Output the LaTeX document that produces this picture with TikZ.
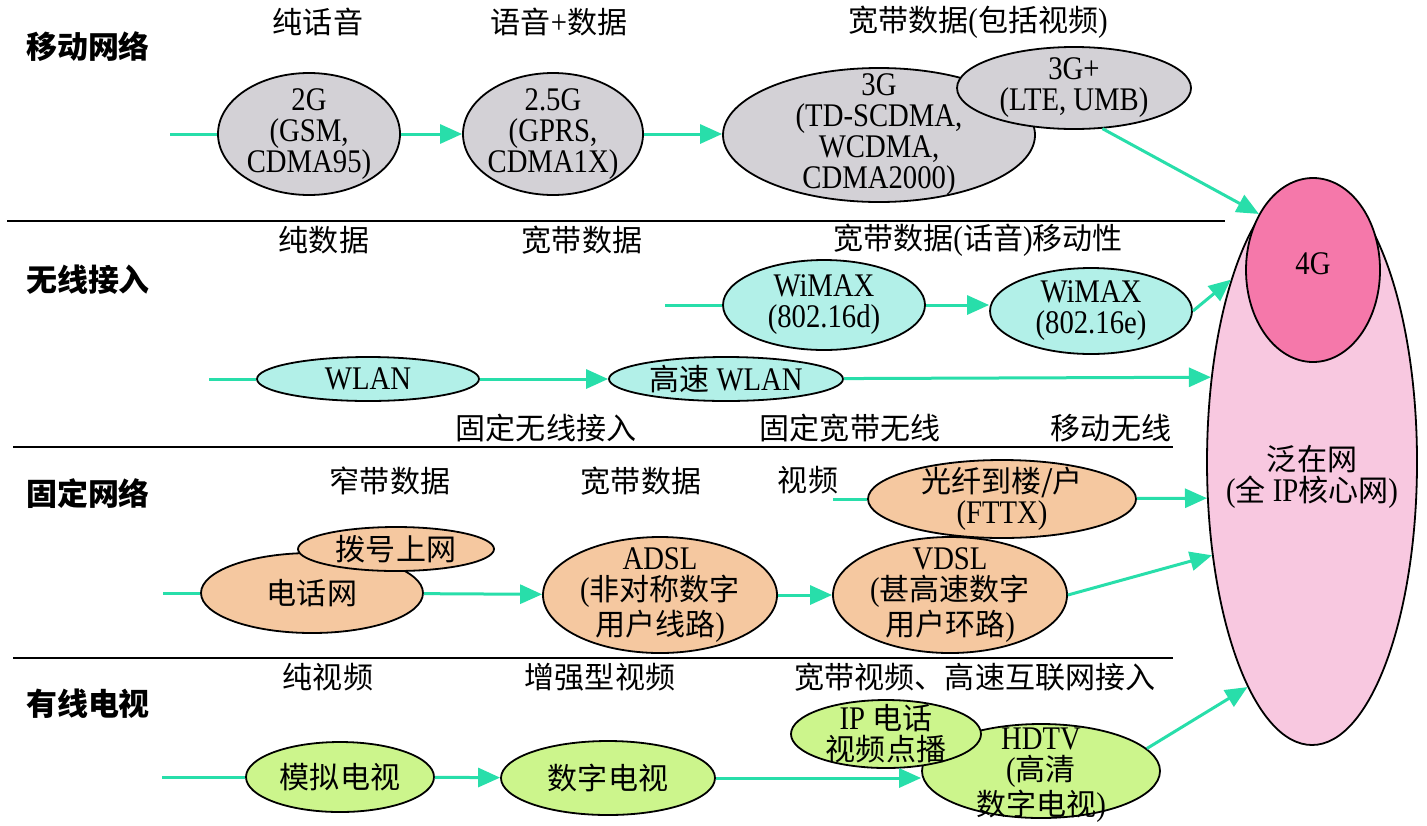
\documentclass[tikz,border=0pt]{standalone}
\usepackage{fontspec}
\setmainfont{Liberation Serif}[FakeStretch=0.87]
\newfontfamily\cjk{Noto Sans CJK SC}[Scale=0.91]
\newcommand\zh[1]{{\cjk #1}}
\usetikzlibrary{shapes.geometric,arrows.meta}
\definecolor{mobc}{RGB}{211,209,214}
\definecolor{wirc}{RGB}{178,240,232}
\definecolor{fixc}{RGB}{245,200,160}
\definecolor{cabc}{RGB}{204,245,140}
\definecolor{bigc}{RGB}{248,200,224}
\definecolor{fourc}{RGB}{245,120,170}
\definecolor{flowc}{RGB}{40,222,170}
\begin{document}
\begin{tikzpicture}[x=0.5pt,y=-0.5pt,
  intext/.style={font=\fontsize{16.5}{15.5}\selectfont, align=center, inner sep=0pt},
  rowlab/.style={font=\fontsize{16.5}{15.5}\selectfont, inner sep=0pt},
  heading/.style={font=\fontsize{17}{17}\selectfont\cjk\bfseries, inner sep=0pt},
  oval/.style={ellipse, draw=black, line width=0.9pt, inner sep=0pt},
  esize/.style 2 args={minimum width=#1pt, minimum height=#2pt},
  et/.style={label={[intext]center:{#1}}},
  mob/.style={oval, fill=mobc},
  wir/.style={oval, fill=wirc},
  fix/.style={oval, fill=fixc},
  cab/.style={oval, fill=cabc},
  flow/.style={draw=flowc, line width=1.5pt, -{Triangle[length=11pt,width=9.5pt]}},
  feed/.style={draw=flowc, line width=1.5pt},
  divider/.style={draw=black, line width=1.1pt}]
\useasboundingbox (0,0) rectangle (1427,825);

% dividers
\draw[divider] (7,221) -- (1225,221);
\draw[divider] (13,447) -- (1173,447);
\draw[divider] (13,658) -- (1173,658);

% headings
\node[heading] (hm) at (88,47) {移动网络};
\node[heading] (hw) at (88,280) {无线接入};
\node[heading] (hf) at (88,494) {固定网络};
\node[heading] (hc) at (88,704) {有线电视};

% row labels
\node[rowlab] (l1) at (318,22) {\zh{纯话音}};
\node[rowlab] (l2) at (559,22) {\zh{语音}+\zh{数据}};
\node[rowlab] (l3) at (978,22) {\zh{宽带数据}(\zh{包括视频})};
\node[rowlab] (l4) at (324,240) {\zh{纯数据}};
\node[rowlab] (l5) at (582,240) {\zh{宽带数据}};
\node[rowlab] (l6) at (978,240) {\zh{宽带数据}(\zh{话音})\zh{移动性}};
\node[rowlab] (l7) at (546,428) {\zh{固定无线接入}};
\node[rowlab] (l8) at (850,428) {\zh{固定宽带无线}};
\node[rowlab] (l9) at (1111,428) {\zh{移动无线}};
\node[rowlab] (l10) at (390,481) {\zh{窄带数据}};
\node[rowlab] (l11) at (641,481) {\zh{宽带数据}};
\node[rowlab] (l12) at (808,480) {\zh{视频}};
\node[rowlab] (l13) at (328,677) {\zh{纯视频}};
\node[rowlab] (l14) at (600,677) {\zh{增强型视频}};
\node[rowlab] (l15) at (975,677) {\zh{宽带视频、高速互联网接入}};

% core network
\node[oval, fill=bigc, esize={105}{283},
      label={[intext,yshift=-7.5pt]center:{\zh{泛在网}\\(\zh{全} IP\zh{核心网})}}] (big) at (1312,462) {};
\node[oval, fill=fourc, esize={67}{92},
      label={[intext,yshift=3pt]center:{4G}}] (g4) at (1313,270) {};

% mobile
\node[mob, esize={91}{61}, et={2G\\(GSM,\\CDMA95)}] (g2) at (309,134) {};
\node[mob, esize={90}{61}, et={2.5G\\(GPRS,\\CDMA1X)}] (g25) at (553,134) {};
\node[mob, esize={156}{67}, et={3G\\(TD-SCDMA,\\WCDMA,\\CDMA2000)}] (g3) at (879,135) {};
\node[mob, esize={117}{41}, et={3G+\\(LTE, UMB)}] (gp) at (1074,88) {};

% wireless
\node[wir, esize={101}{45}, et={WiMAX\\(802.16d)}] (wd) at (824,305) {};
\node[wir, esize={101}{43}, et={WiMAX\\(802.16e)}] (we) at (1091,311) {};
\node[wir, esize={111}{22}, et={WLAN}] (wlan) at (368,379) {};
\node[wir, esize={117}{22}, et={\zh{高速} WLAN}] (hwlan) at (726,379) {};

% fixed
\node[fix, esize={134}{39}, et={\zh{光纤到楼/户}\\(FTTX)}] (fttx) at (1002,499) {};
\node[fix, esize={111}{40}, et={\zh{电话网}}] (tel) at (312,593) {};
\node[fix, esize={98}{22}, et={\zh{拨号上网}}] (dial) at (396,549) {};
\node[fix, esize={117}{58}, et={ADSL\\(\zh{非对称数字}\\\zh{用户线路})}] (adsl) at (660,595) {};
\node[fix, esize={117}{58}, et={VDSL\\(\zh{甚高速数字}\\\zh{用户环路})}] (vdsl) at (950,595) {};

% cable
\node[cab, esize={94}{35}, et={\zh{模拟电视}}] (ana) at (340,777) {};
\node[cab, esize={107}{37}, et={\zh{数字电视}}] (dig) at (608,778) {};
\node[cab, esize={119}{47}, label={[intext,yshift=-2pt]center:{HDTV\\(\zh{高清}\\\zh{数字电视})}}] (hdtv) at (1041,771) {};
\node[cab, esize={95}{34}, et={IP \zh{电话}\\\zh{视频点播}}] (ip) at (886,734) {};

% free starts
\coordinate (m0) at (170,134);
\coordinate (wd0) at (665,305);
\coordinate (wl0) at (209,379);
\coordinate (ft0) at (833,499);
\coordinate (te0) at (163,593);
\coordinate (an0) at (162,777);

% connectors: mobile
\draw[feed] (m0) -- (g2);
\draw[flow] (g2) -- (g25);
\draw[flow] (g25.east) -- (g25.east -| g3.west);
\draw[flow] (gp.-55) -- (g4.134.5);

% wireless
\draw[feed] (wd0) -- (wd);
\draw[flow] (wd.east) -- (wd.east -| we.west);
\draw[flow] (we.east) -- (big.114.7);
\draw[feed] (wl0) -- (wlan);
\draw[flow] (wlan) -- (hwlan);
\draw[flow] (hwlan) -- (big.140.4);

% fixed
\draw[feed] (ft0) -- (fttx);
\draw[flow] (fttx) -- (big.199.6);
\draw[feed] (te0) -- (tel);
\draw[flow] (tel) -- (adsl);
\draw[flow] (adsl) -- (vdsl);
\draw[flow] (vdsl.east) -- (big.223.8);

% cable
\draw[feed] (an0) -- (ana);
\draw[flow] (ana) -- (dig);
\draw[flow] (dig.east) -- (dig.east -| hdtv.west);
\draw[flow] (hdtv.12.4) -- (big.254.2);
\end{tikzpicture}
\end{document}
